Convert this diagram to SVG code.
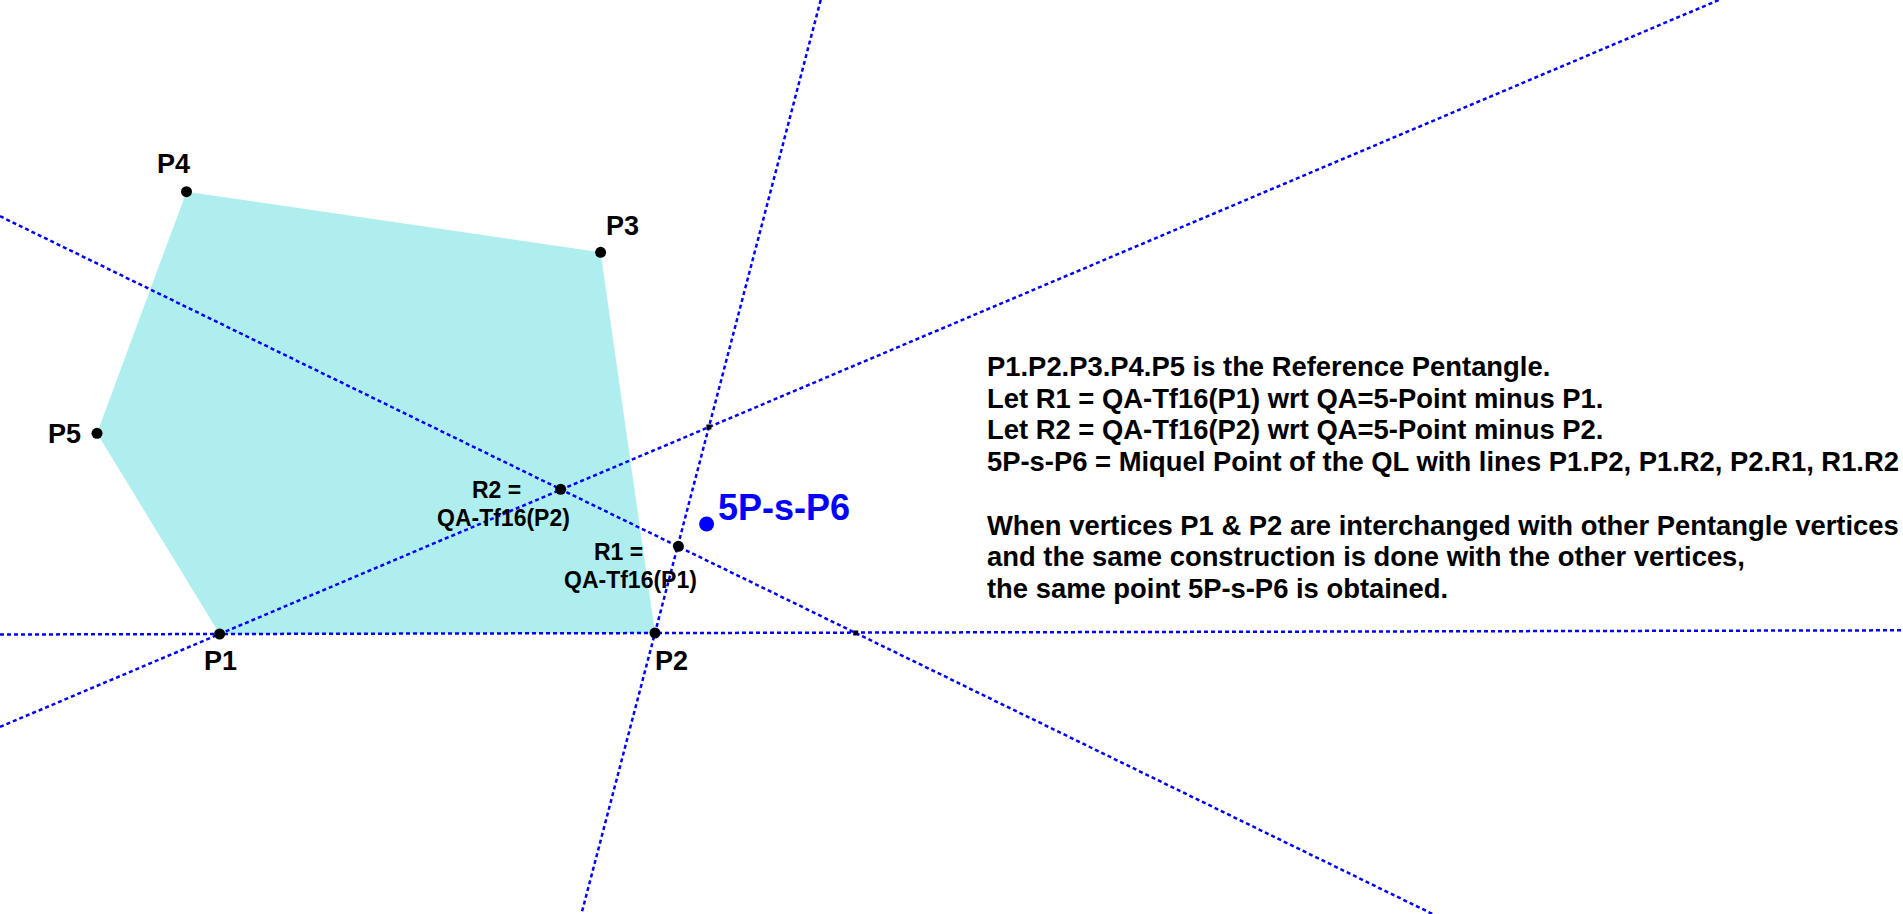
<svg xmlns="http://www.w3.org/2000/svg" width="1903" height="914" viewBox="0 0 1903 914">
<style>
.ln{stroke:#0000FF;stroke-width:2.5;stroke-dasharray:4 3;fill:none}
.pt{fill:#000}
.lbl{font-family:"Liberation Sans",Arial,sans-serif;font-weight:bold;font-size:27px;fill:#000}
.sm{font-family:"Liberation Sans",Arial,sans-serif;font-weight:bold;font-size:23px;fill:#000}
.txt{font-family:"Liberation Sans",Arial,sans-serif;font-weight:bold;font-size:27.4px;fill:#000}
</style>
<rect width="1903" height="914" fill="#fff"/>
<g id="pentagon">
<polygon points="219.6,634 655,633 600.6,252.3 186.5,191.7 97,433.3" fill="#AFEEEE"/>
</g>
<g id="connectors">
<line class="ln" x1="820.7" y1="0" x2="581.4" y2="914"/>
<line class="ln" x1="0" y1="726.9" x2="1718.8" y2="0"/>
<line class="ln" x1="0" y1="216.2" x2="1432.6" y2="914"/>
<line class="ln" x1="0" y1="634.5" x2="1903" y2="630.3"/>
</g>
<g id="marks">
<rect x="706.4" y="424.5" width="5" height="5" fill="#000"/>
<rect x="853.2" y="630.5" width="5" height="5" fill="#000"/>
</g>
<g id="P1"><circle class="pt" cx="219.6" cy="634" r="5.5"/><text class="lbl" x="204" y="670">P1</text></g>
<g id="P2"><circle class="pt" cx="655" cy="633" r="5.5"/><text class="lbl" x="655" y="670">P2</text></g>
<g id="P3"><circle class="pt" cx="600.6" cy="252.3" r="5.5"/><text class="lbl" x="606" y="235">P3</text></g>
<g id="P4"><circle class="pt" cx="186.5" cy="191.7" r="5.5"/><text class="lbl" x="157" y="173">P4</text></g>
<g id="P5"><circle class="pt" cx="97" cy="433.3" r="5.5"/><text class="lbl" x="48" y="443">P5</text></g>
<g id="R2"><circle class="pt" cx="560.7" cy="489.3" r="5.5"/><text class="sm" x="472" y="498">R2 =</text><text class="sm" x="437" y="526">QA-Tf16(P2)</text></g>
<g id="R1"><circle class="pt" cx="678.4" cy="546.3" r="5.5"/><text class="sm" x="594" y="560">R1 =</text><text class="sm" x="564" y="588">QA-Tf16(P1)</text></g>
<g id="P6"><circle cx="706.6" cy="524" r="7.5" fill="#0000FF"/><text x="718" y="520" font-family="Liberation Sans,Arial,sans-serif" font-weight="bold" font-size="36" fill="#0000FF">5P-s-P6</text></g>
<g id="description">
<text class="txt" x="987" y="376">P1.P2.P3.P4.P5 is the Reference Pentangle.</text>
<text class="txt" x="987" y="407.7">Let R1 = QA-Tf16(P1) wrt QA=5-Point minus P1.</text>
<text class="txt" x="987" y="439.4">Let R2 = QA-Tf16(P2) wrt QA=5-Point minus P2.</text>
<text class="txt" x="987" y="471.1">5P-s-P6 = Miquel Point of the QL with lines P1.P2, P1.R2, P2.R1, R1.R2</text>
<text class="txt" x="987" y="534.5">When vertices P1 &amp; P2 are interchanged with other Pentangle vertices</text>
<text class="txt" x="987" y="566.2">and the same construction is done with the other vertices,</text>
<text class="txt" x="987" y="597.9">the same point 5P-s-P6 is obtained.</text>
</g>
</svg>
